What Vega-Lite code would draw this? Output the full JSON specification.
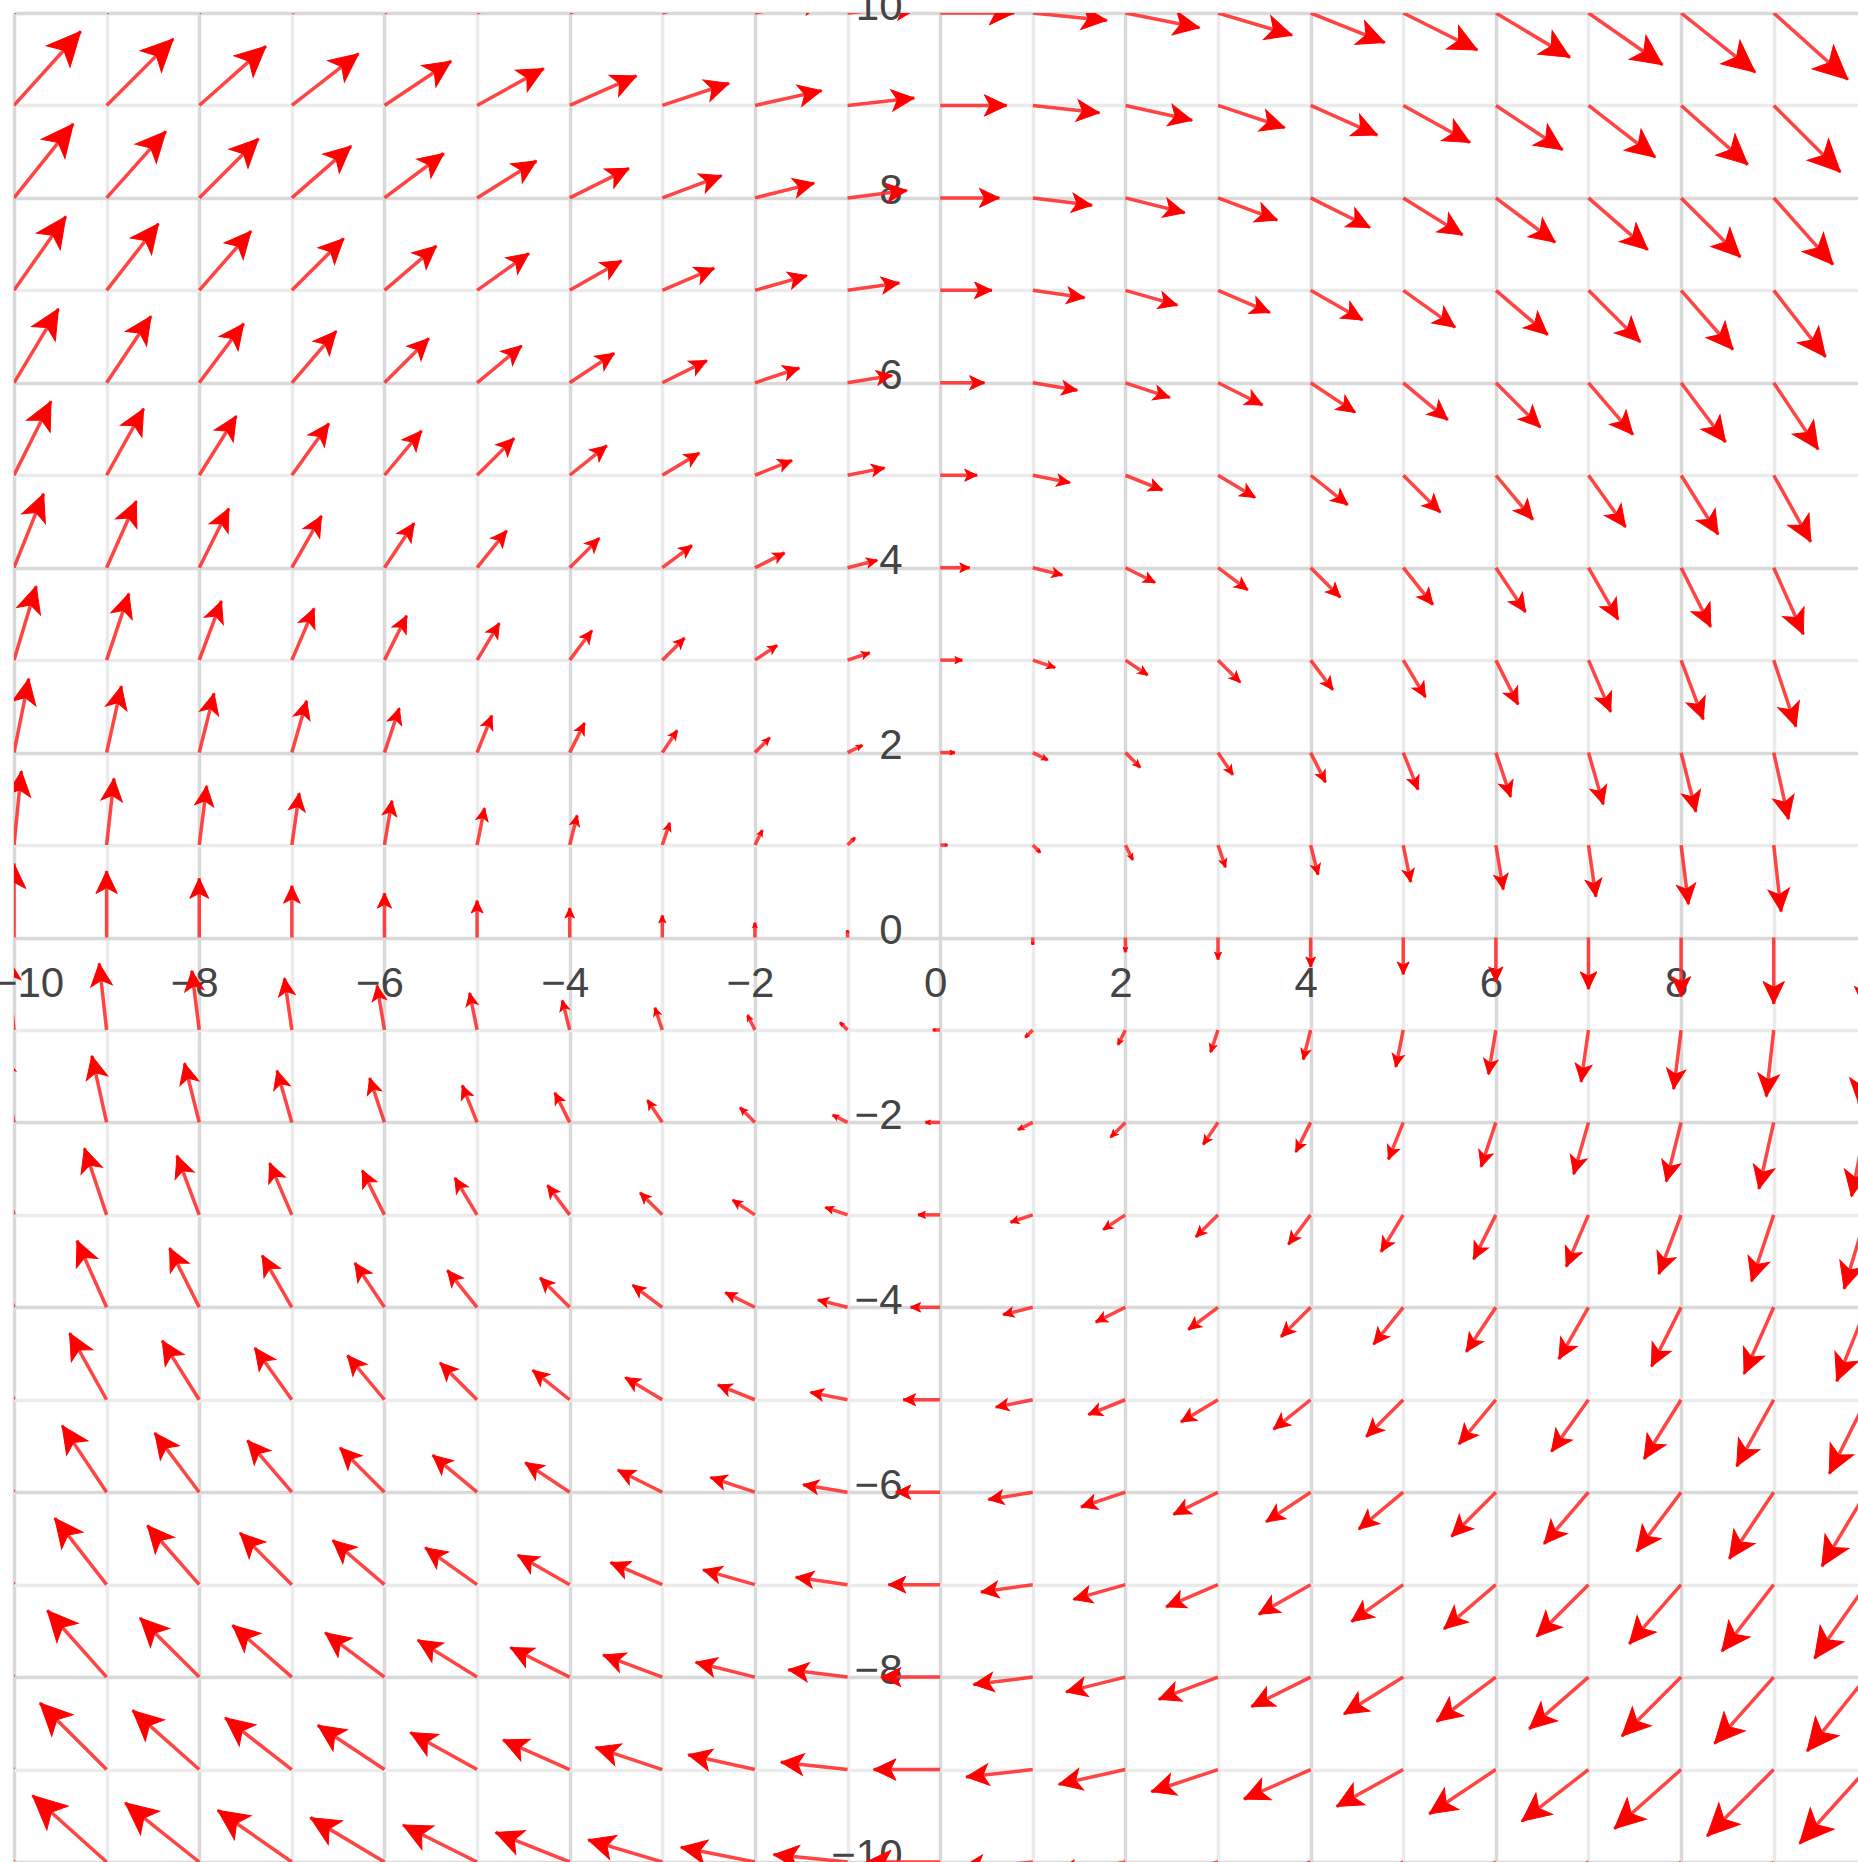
{
"$schema": "https://vega.github.io/schema/vega-lite/v6.json",
"width": 1844, "height": 1849,
"autosize": {"type": "none"},
"padding": {"left": 14, "top": 13, "right": 0, "bottom": 0},
"background": "white",
"config": {"view": {"stroke": null}},
"data": {"values": [
{"x":-10,"y":10,"p":-9.2,"q":10.8,"a":45,"m":200},{"x":-9,"y":10,"p":-8.2,"q":10.72,"a":48,"m":181},{"x":-8,"y":10,"p":-7.2,"q":10.64,"a":51,"m":164},{"x":-7,"y":10,"p":-6.2,"q":10.56,"a":55,"m":149},{"x":-6,"y":10,"p":-5.2,"q":10.48,"a":59,"m":136},{"x":-5,"y":10,"p":-4.2,"q":10.4,"a":63,"m":125},{"x":-4,"y":10,"p":-3.2,"q":10.32,"a":68,"m":116},{"x":-3,"y":10,"p":-2.2,"q":10.24,"a":73,"m":109},{"x":-2,"y":10,"p":-1.2,"q":10.16,"a":79,"m":104},{"x":-1,"y":10,"p":-0.2,"q":10.08,"a":84,"m":101},{"x":0,"y":10,"p":0.8,"q":10,"a":90,"m":100},{"x":1,"y":10,"p":1.8,"q":9.92,"a":96,"m":101},{"x":2,"y":10,"p":2.8,"q":9.84,"a":101,"m":104},{"x":3,"y":10,"p":3.8,"q":9.76,"a":107,"m":109},{"x":4,"y":10,"p":4.8,"q":9.68,"a":112,"m":116},{"x":5,"y":10,"p":5.8,"q":9.6,"a":117,"m":125},{"x":6,"y":10,"p":6.8,"q":9.52,"a":121,"m":136},{"x":7,"y":10,"p":7.8,"q":9.44,"a":125,"m":149},{"x":8,"y":10,"p":8.8,"q":9.36,"a":129,"m":164},{"x":9,"y":10,"p":9.8,"q":9.28,"a":132,"m":181},{"x":10,"y":10,"p":10.8,"q":9.2,"a":135,"m":200},
{"x":-10,"y":9,"p":-9.28,"q":9.8,"a":42,"m":181},{"x":-9,"y":9,"p":-8.28,"q":9.72,"a":45,"m":162},{"x":-8,"y":9,"p":-7.28,"q":9.64,"a":48,"m":145},{"x":-7,"y":9,"p":-6.28,"q":9.56,"a":52,"m":130},{"x":-6,"y":9,"p":-5.28,"q":9.48,"a":56,"m":117},{"x":-5,"y":9,"p":-4.28,"q":9.4,"a":61,"m":106},{"x":-4,"y":9,"p":-3.28,"q":9.32,"a":66,"m":97},{"x":-3,"y":9,"p":-2.28,"q":9.24,"a":72,"m":90},{"x":-2,"y":9,"p":-1.28,"q":9.16,"a":77,"m":85},{"x":-1,"y":9,"p":-0.28,"q":9.08,"a":84,"m":82},{"x":0,"y":9,"p":0.72,"q":9,"a":90,"m":81},{"x":1,"y":9,"p":1.72,"q":8.92,"a":96,"m":82},{"x":2,"y":9,"p":2.72,"q":8.84,"a":103,"m":85},{"x":3,"y":9,"p":3.72,"q":8.76,"a":108,"m":90},{"x":4,"y":9,"p":4.72,"q":8.68,"a":114,"m":97},{"x":5,"y":9,"p":5.72,"q":8.6,"a":119,"m":106},{"x":6,"y":9,"p":6.72,"q":8.52,"a":124,"m":117},{"x":7,"y":9,"p":7.72,"q":8.44,"a":128,"m":130},{"x":8,"y":9,"p":8.72,"q":8.36,"a":132,"m":145},{"x":9,"y":9,"p":9.72,"q":8.28,"a":135,"m":162},{"x":10,"y":9,"p":10.72,"q":8.2,"a":138,"m":181},
{"x":-10,"y":8,"p":-9.36,"q":8.8,"a":39,"m":164},{"x":-9,"y":8,"p":-8.36,"q":8.72,"a":42,"m":145},{"x":-8,"y":8,"p":-7.36,"q":8.64,"a":45,"m":128},{"x":-7,"y":8,"p":-6.36,"q":8.56,"a":49,"m":113},{"x":-6,"y":8,"p":-5.36,"q":8.48,"a":53,"m":100},{"x":-5,"y":8,"p":-4.36,"q":8.4,"a":58,"m":89},{"x":-4,"y":8,"p":-3.36,"q":8.32,"a":63,"m":80},{"x":-3,"y":8,"p":-2.36,"q":8.24,"a":69,"m":73},{"x":-2,"y":8,"p":-1.36,"q":8.16,"a":76,"m":68},{"x":-1,"y":8,"p":-0.36,"q":8.08,"a":83,"m":65},{"x":0,"y":8,"p":0.64,"q":8,"a":90,"m":64},{"x":1,"y":8,"p":1.64,"q":7.92,"a":97,"m":65},{"x":2,"y":8,"p":2.64,"q":7.84,"a":104,"m":68},{"x":3,"y":8,"p":3.64,"q":7.76,"a":111,"m":73},{"x":4,"y":8,"p":4.64,"q":7.68,"a":117,"m":80},{"x":5,"y":8,"p":5.64,"q":7.6,"a":122,"m":89},{"x":6,"y":8,"p":6.64,"q":7.52,"a":127,"m":100},{"x":7,"y":8,"p":7.64,"q":7.44,"a":131,"m":113},{"x":8,"y":8,"p":8.64,"q":7.36,"a":135,"m":128},{"x":9,"y":8,"p":9.64,"q":7.28,"a":138,"m":145},{"x":10,"y":8,"p":10.64,"q":7.2,"a":141,"m":164},
{"x":-10,"y":7,"p":-9.44,"q":7.8,"a":35,"m":149},{"x":-9,"y":7,"p":-8.44,"q":7.72,"a":38,"m":130},{"x":-8,"y":7,"p":-7.44,"q":7.64,"a":41,"m":113},{"x":-7,"y":7,"p":-6.44,"q":7.56,"a":45,"m":98},{"x":-6,"y":7,"p":-5.44,"q":7.48,"a":49,"m":85},{"x":-5,"y":7,"p":-4.44,"q":7.4,"a":54,"m":74},{"x":-4,"y":7,"p":-3.44,"q":7.32,"a":60,"m":65},{"x":-3,"y":7,"p":-2.44,"q":7.24,"a":67,"m":58},{"x":-2,"y":7,"p":-1.44,"q":7.16,"a":74,"m":53},{"x":-1,"y":7,"p":-0.44,"q":7.08,"a":82,"m":50},{"x":0,"y":7,"p":0.56,"q":7,"a":90,"m":49},{"x":1,"y":7,"p":1.56,"q":6.92,"a":98,"m":50},{"x":2,"y":7,"p":2.56,"q":6.84,"a":106,"m":53},{"x":3,"y":7,"p":3.56,"q":6.76,"a":113,"m":58},{"x":4,"y":7,"p":4.56,"q":6.68,"a":120,"m":65},{"x":5,"y":7,"p":5.56,"q":6.6,"a":126,"m":74},{"x":6,"y":7,"p":6.56,"q":6.52,"a":131,"m":85},{"x":7,"y":7,"p":7.56,"q":6.44,"a":135,"m":98},{"x":8,"y":7,"p":8.56,"q":6.36,"a":139,"m":113},{"x":9,"y":7,"p":9.56,"q":6.28,"a":142,"m":130},{"x":10,"y":7,"p":10.56,"q":6.2,"a":145,"m":149},
{"x":-10,"y":6,"p":-9.52,"q":6.8,"a":31,"m":136},{"x":-9,"y":6,"p":-8.52,"q":6.72,"a":34,"m":117},{"x":-8,"y":6,"p":-7.52,"q":6.64,"a":37,"m":100},{"x":-7,"y":6,"p":-6.52,"q":6.56,"a":41,"m":85},{"x":-6,"y":6,"p":-5.52,"q":6.48,"a":45,"m":72},{"x":-5,"y":6,"p":-4.52,"q":6.4,"a":50,"m":61},{"x":-4,"y":6,"p":-3.52,"q":6.32,"a":56,"m":52},{"x":-3,"y":6,"p":-2.52,"q":6.24,"a":63,"m":45},{"x":-2,"y":6,"p":-1.52,"q":6.16,"a":72,"m":40},{"x":-1,"y":6,"p":-0.52,"q":6.08,"a":81,"m":37},{"x":0,"y":6,"p":0.48,"q":6,"a":90,"m":36},{"x":1,"y":6,"p":1.48,"q":5.92,"a":99,"m":37},{"x":2,"y":6,"p":2.48,"q":5.84,"a":108,"m":40},{"x":3,"y":6,"p":3.48,"q":5.76,"a":117,"m":45},{"x":4,"y":6,"p":4.48,"q":5.68,"a":124,"m":52},{"x":5,"y":6,"p":5.48,"q":5.6,"a":130,"m":61},{"x":6,"y":6,"p":6.48,"q":5.52,"a":135,"m":72},{"x":7,"y":6,"p":7.48,"q":5.44,"a":139,"m":85},{"x":8,"y":6,"p":8.48,"q":5.36,"a":143,"m":100},{"x":9,"y":6,"p":9.48,"q":5.28,"a":146,"m":117},{"x":10,"y":6,"p":10.48,"q":5.2,"a":149,"m":136},
{"x":-10,"y":5,"p":-9.6,"q":5.8,"a":27,"m":125},{"x":-9,"y":5,"p":-8.6,"q":5.72,"a":29,"m":106},{"x":-8,"y":5,"p":-7.6,"q":5.64,"a":32,"m":89},{"x":-7,"y":5,"p":-6.6,"q":5.56,"a":36,"m":74},{"x":-6,"y":5,"p":-5.6,"q":5.48,"a":40,"m":61},{"x":-5,"y":5,"p":-4.6,"q":5.4,"a":45,"m":50},{"x":-4,"y":5,"p":-3.6,"q":5.32,"a":51,"m":41},{"x":-3,"y":5,"p":-2.6,"q":5.24,"a":59,"m":34},{"x":-2,"y":5,"p":-1.6,"q":5.16,"a":68,"m":29},{"x":-1,"y":5,"p":-0.6,"q":5.08,"a":79,"m":26},{"x":0,"y":5,"p":0.4,"q":5,"a":90,"m":25},{"x":1,"y":5,"p":1.4,"q":4.92,"a":101,"m":26},{"x":2,"y":5,"p":2.4,"q":4.84,"a":112,"m":29},{"x":3,"y":5,"p":3.4,"q":4.76,"a":121,"m":34},{"x":4,"y":5,"p":4.4,"q":4.68,"a":129,"m":41},{"x":5,"y":5,"p":5.4,"q":4.6,"a":135,"m":50},{"x":6,"y":5,"p":6.4,"q":4.52,"a":140,"m":61},{"x":7,"y":5,"p":7.4,"q":4.44,"a":144,"m":74},{"x":8,"y":5,"p":8.4,"q":4.36,"a":148,"m":89},{"x":9,"y":5,"p":9.4,"q":4.28,"a":151,"m":106},{"x":10,"y":5,"p":10.4,"q":4.2,"a":153,"m":125},
{"x":-10,"y":4,"p":-9.68,"q":4.8,"a":22,"m":116},{"x":-9,"y":4,"p":-8.68,"q":4.72,"a":24,"m":97},{"x":-8,"y":4,"p":-7.68,"q":4.64,"a":27,"m":80},{"x":-7,"y":4,"p":-6.68,"q":4.56,"a":30,"m":65},{"x":-6,"y":4,"p":-5.68,"q":4.48,"a":34,"m":52},{"x":-5,"y":4,"p":-4.68,"q":4.4,"a":39,"m":41},{"x":-4,"y":4,"p":-3.68,"q":4.32,"a":45,"m":32},{"x":-3,"y":4,"p":-2.68,"q":4.24,"a":53,"m":25},{"x":-2,"y":4,"p":-1.68,"q":4.16,"a":63,"m":20},{"x":-1,"y":4,"p":-0.68,"q":4.08,"a":76,"m":17},{"x":0,"y":4,"p":0.32,"q":4,"a":90,"m":16},{"x":1,"y":4,"p":1.32,"q":3.92,"a":104,"m":17},{"x":2,"y":4,"p":2.32,"q":3.84,"a":117,"m":20},{"x":3,"y":4,"p":3.32,"q":3.76,"a":127,"m":25},{"x":4,"y":4,"p":4.32,"q":3.68,"a":135,"m":32},{"x":5,"y":4,"p":5.32,"q":3.6,"a":141,"m":41},{"x":6,"y":4,"p":6.32,"q":3.52,"a":146,"m":52},{"x":7,"y":4,"p":7.32,"q":3.44,"a":150,"m":65},{"x":8,"y":4,"p":8.32,"q":3.36,"a":153,"m":80},{"x":9,"y":4,"p":9.32,"q":3.28,"a":156,"m":97},{"x":10,"y":4,"p":10.32,"q":3.2,"a":158,"m":116},
{"x":-10,"y":3,"p":-9.76,"q":3.8,"a":17,"m":109},{"x":-9,"y":3,"p":-8.76,"q":3.72,"a":18,"m":90},{"x":-8,"y":3,"p":-7.76,"q":3.64,"a":21,"m":73},{"x":-7,"y":3,"p":-6.76,"q":3.56,"a":23,"m":58},{"x":-6,"y":3,"p":-5.76,"q":3.48,"a":27,"m":45},{"x":-5,"y":3,"p":-4.76,"q":3.4,"a":31,"m":34},{"x":-4,"y":3,"p":-3.76,"q":3.32,"a":37,"m":25},{"x":-3,"y":3,"p":-2.76,"q":3.24,"a":45,"m":18},{"x":-2,"y":3,"p":-1.76,"q":3.16,"a":56,"m":13},{"x":-1,"y":3,"p":-0.76,"q":3.08,"a":72,"m":10},{"x":0,"y":3,"p":0.24,"q":3,"a":90,"m":9},{"x":1,"y":3,"p":1.24,"q":2.92,"a":108,"m":10},{"x":2,"y":3,"p":2.24,"q":2.84,"a":124,"m":13},{"x":3,"y":3,"p":3.24,"q":2.76,"a":135,"m":18},{"x":4,"y":3,"p":4.24,"q":2.68,"a":143,"m":25},{"x":5,"y":3,"p":5.24,"q":2.6,"a":149,"m":34},{"x":6,"y":3,"p":6.24,"q":2.52,"a":153,"m":45},{"x":7,"y":3,"p":7.24,"q":2.44,"a":157,"m":58},{"x":8,"y":3,"p":8.24,"q":2.36,"a":159,"m":73},{"x":9,"y":3,"p":9.24,"q":2.28,"a":162,"m":90},{"x":10,"y":3,"p":10.24,"q":2.2,"a":163,"m":109},
{"x":-10,"y":2,"p":-9.84,"q":2.8,"a":11,"m":104},{"x":-9,"y":2,"p":-8.84,"q":2.72,"a":13,"m":85},{"x":-8,"y":2,"p":-7.84,"q":2.64,"a":14,"m":68},{"x":-7,"y":2,"p":-6.84,"q":2.56,"a":16,"m":53},{"x":-6,"y":2,"p":-5.84,"q":2.48,"a":18,"m":40},{"x":-5,"y":2,"p":-4.84,"q":2.4,"a":22,"m":29},{"x":-4,"y":2,"p":-3.84,"q":2.32,"a":27,"m":20},{"x":-3,"y":2,"p":-2.84,"q":2.24,"a":34,"m":13},{"x":-2,"y":2,"p":-1.84,"q":2.16,"a":45,"m":8},{"x":-1,"y":2,"p":-0.84,"q":2.08,"a":63,"m":5},{"x":0,"y":2,"p":0.16,"q":2,"a":90,"m":4},{"x":1,"y":2,"p":1.16,"q":1.92,"a":117,"m":5},{"x":2,"y":2,"p":2.16,"q":1.84,"a":135,"m":8},{"x":3,"y":2,"p":3.16,"q":1.76,"a":146,"m":13},{"x":4,"y":2,"p":4.16,"q":1.68,"a":153,"m":20},{"x":5,"y":2,"p":5.16,"q":1.6,"a":158,"m":29},{"x":6,"y":2,"p":6.16,"q":1.52,"a":162,"m":40},{"x":7,"y":2,"p":7.16,"q":1.44,"a":164,"m":53},{"x":8,"y":2,"p":8.16,"q":1.36,"a":166,"m":68},{"x":9,"y":2,"p":9.16,"q":1.28,"a":167,"m":85},{"x":10,"y":2,"p":10.16,"q":1.2,"a":169,"m":104},
{"x":-10,"y":1,"p":-9.92,"q":1.8,"a":6,"m":101},{"x":-9,"y":1,"p":-8.92,"q":1.72,"a":6,"m":82},{"x":-8,"y":1,"p":-7.92,"q":1.64,"a":7,"m":65},{"x":-7,"y":1,"p":-6.92,"q":1.56,"a":8,"m":50},{"x":-6,"y":1,"p":-5.92,"q":1.48,"a":9,"m":37},{"x":-5,"y":1,"p":-4.92,"q":1.4,"a":11,"m":26},{"x":-4,"y":1,"p":-3.92,"q":1.32,"a":14,"m":17},{"x":-3,"y":1,"p":-2.92,"q":1.24,"a":18,"m":10},{"x":-2,"y":1,"p":-1.92,"q":1.16,"a":27,"m":5},{"x":-1,"y":1,"p":-0.92,"q":1.08,"a":45,"m":2},{"x":0,"y":1,"p":0.08,"q":1,"a":90,"m":1},{"x":1,"y":1,"p":1.08,"q":0.92,"a":135,"m":2},{"x":2,"y":1,"p":2.08,"q":0.84,"a":153,"m":5},{"x":3,"y":1,"p":3.08,"q":0.76,"a":162,"m":10},{"x":4,"y":1,"p":4.08,"q":0.68,"a":166,"m":17},{"x":5,"y":1,"p":5.08,"q":0.6,"a":169,"m":26},{"x":6,"y":1,"p":6.08,"q":0.52,"a":171,"m":37},{"x":7,"y":1,"p":7.08,"q":0.44,"a":172,"m":50},{"x":8,"y":1,"p":8.08,"q":0.36,"a":173,"m":65},{"x":9,"y":1,"p":9.08,"q":0.28,"a":174,"m":82},{"x":10,"y":1,"p":10.08,"q":0.2,"a":174,"m":101},
{"x":-10,"y":0,"p":-10,"q":0.8,"a":0,"m":100},{"x":-9,"y":0,"p":-9,"q":0.72,"a":0,"m":81},{"x":-8,"y":0,"p":-8,"q":0.64,"a":0,"m":64},{"x":-7,"y":0,"p":-7,"q":0.56,"a":0,"m":49},{"x":-6,"y":0,"p":-6,"q":0.48,"a":0,"m":36},{"x":-5,"y":0,"p":-5,"q":0.4,"a":0,"m":25},{"x":-4,"y":0,"p":-4,"q":0.32,"a":0,"m":16},{"x":-3,"y":0,"p":-3,"q":0.24,"a":0,"m":9},{"x":-2,"y":0,"p":-2,"q":0.16,"a":0,"m":4},{"x":-1,"y":0,"p":-1,"q":0.08,"a":0,"m":1},{"x":1,"y":0,"p":1,"q":-0.08,"a":180,"m":1},{"x":2,"y":0,"p":2,"q":-0.16,"a":180,"m":4},{"x":3,"y":0,"p":3,"q":-0.24,"a":180,"m":9},{"x":4,"y":0,"p":4,"q":-0.32,"a":180,"m":16},{"x":5,"y":0,"p":5,"q":-0.4,"a":180,"m":25},{"x":6,"y":0,"p":6,"q":-0.48,"a":180,"m":36},{"x":7,"y":0,"p":7,"q":-0.56,"a":180,"m":49},{"x":8,"y":0,"p":8,"q":-0.64,"a":180,"m":64},{"x":9,"y":0,"p":9,"q":-0.72,"a":180,"m":81},{"x":10,"y":0,"p":10,"q":-0.8,"a":180,"m":100},
{"x":-10,"y":-1,"p":-10.08,"q":-0.2,"a":354,"m":101},{"x":-9,"y":-1,"p":-9.08,"q":-0.28,"a":354,"m":82},{"x":-8,"y":-1,"p":-8.08,"q":-0.36,"a":353,"m":65},{"x":-7,"y":-1,"p":-7.08,"q":-0.44,"a":352,"m":50},{"x":-6,"y":-1,"p":-6.08,"q":-0.52,"a":351,"m":37},{"x":-5,"y":-1,"p":-5.08,"q":-0.6,"a":349,"m":26},{"x":-4,"y":-1,"p":-4.08,"q":-0.68,"a":346,"m":17},{"x":-3,"y":-1,"p":-3.08,"q":-0.76,"a":342,"m":10},{"x":-2,"y":-1,"p":-2.08,"q":-0.84,"a":333,"m":5},{"x":-1,"y":-1,"p":-1.08,"q":-0.92,"a":315,"m":2},{"x":0,"y":-1,"p":-0.08,"q":-1,"a":270,"m":1},{"x":1,"y":-1,"p":0.92,"q":-1.08,"a":225,"m":2},{"x":2,"y":-1,"p":1.92,"q":-1.16,"a":207,"m":5},{"x":3,"y":-1,"p":2.92,"q":-1.24,"a":198,"m":10},{"x":4,"y":-1,"p":3.92,"q":-1.32,"a":194,"m":17},{"x":5,"y":-1,"p":4.92,"q":-1.4,"a":191,"m":26},{"x":6,"y":-1,"p":5.92,"q":-1.48,"a":189,"m":37},{"x":7,"y":-1,"p":6.92,"q":-1.56,"a":188,"m":50},{"x":8,"y":-1,"p":7.92,"q":-1.64,"a":187,"m":65},{"x":9,"y":-1,"p":8.92,"q":-1.72,"a":186,"m":82},{"x":10,"y":-1,"p":9.92,"q":-1.8,"a":186,"m":101},
{"x":-10,"y":-2,"p":-10.16,"q":-1.2,"a":349,"m":104},{"x":-9,"y":-2,"p":-9.16,"q":-1.28,"a":347,"m":85},{"x":-8,"y":-2,"p":-8.16,"q":-1.36,"a":346,"m":68},{"x":-7,"y":-2,"p":-7.16,"q":-1.44,"a":344,"m":53},{"x":-6,"y":-2,"p":-6.16,"q":-1.52,"a":342,"m":40},{"x":-5,"y":-2,"p":-5.16,"q":-1.6,"a":338,"m":29},{"x":-4,"y":-2,"p":-4.16,"q":-1.68,"a":333,"m":20},{"x":-3,"y":-2,"p":-3.16,"q":-1.76,"a":326,"m":13},{"x":-2,"y":-2,"p":-2.16,"q":-1.84,"a":315,"m":8},{"x":-1,"y":-2,"p":-1.16,"q":-1.92,"a":297,"m":5},{"x":0,"y":-2,"p":-0.16,"q":-2,"a":270,"m":4},{"x":1,"y":-2,"p":0.84,"q":-2.08,"a":243,"m":5},{"x":2,"y":-2,"p":1.84,"q":-2.16,"a":225,"m":8},{"x":3,"y":-2,"p":2.84,"q":-2.24,"a":214,"m":13},{"x":4,"y":-2,"p":3.84,"q":-2.32,"a":207,"m":20},{"x":5,"y":-2,"p":4.84,"q":-2.4,"a":202,"m":29},{"x":6,"y":-2,"p":5.84,"q":-2.48,"a":198,"m":40},{"x":7,"y":-2,"p":6.84,"q":-2.56,"a":196,"m":53},{"x":8,"y":-2,"p":7.84,"q":-2.64,"a":194,"m":68},{"x":9,"y":-2,"p":8.84,"q":-2.72,"a":193,"m":85},{"x":10,"y":-2,"p":9.84,"q":-2.8,"a":191,"m":104},
{"x":-10,"y":-3,"p":-10.24,"q":-2.2,"a":343,"m":109},{"x":-9,"y":-3,"p":-9.24,"q":-2.28,"a":342,"m":90},{"x":-8,"y":-3,"p":-8.24,"q":-2.36,"a":339,"m":73},{"x":-7,"y":-3,"p":-7.24,"q":-2.44,"a":337,"m":58},{"x":-6,"y":-3,"p":-6.24,"q":-2.52,"a":333,"m":45},{"x":-5,"y":-3,"p":-5.24,"q":-2.6,"a":329,"m":34},{"x":-4,"y":-3,"p":-4.24,"q":-2.68,"a":323,"m":25},{"x":-3,"y":-3,"p":-3.24,"q":-2.76,"a":315,"m":18},{"x":-2,"y":-3,"p":-2.24,"q":-2.84,"a":304,"m":13},{"x":-1,"y":-3,"p":-1.24,"q":-2.92,"a":288,"m":10},{"x":0,"y":-3,"p":-0.24,"q":-3,"a":270,"m":9},{"x":1,"y":-3,"p":0.76,"q":-3.08,"a":252,"m":10},{"x":2,"y":-3,"p":1.76,"q":-3.16,"a":236,"m":13},{"x":3,"y":-3,"p":2.76,"q":-3.24,"a":225,"m":18},{"x":4,"y":-3,"p":3.76,"q":-3.32,"a":217,"m":25},{"x":5,"y":-3,"p":4.76,"q":-3.4,"a":211,"m":34},{"x":6,"y":-3,"p":5.76,"q":-3.48,"a":207,"m":45},{"x":7,"y":-3,"p":6.76,"q":-3.56,"a":203,"m":58},{"x":8,"y":-3,"p":7.76,"q":-3.64,"a":201,"m":73},{"x":9,"y":-3,"p":8.76,"q":-3.72,"a":198,"m":90},{"x":10,"y":-3,"p":9.76,"q":-3.8,"a":197,"m":109},
{"x":-10,"y":-4,"p":-10.32,"q":-3.2,"a":338,"m":116},{"x":-9,"y":-4,"p":-9.32,"q":-3.28,"a":336,"m":97},{"x":-8,"y":-4,"p":-8.32,"q":-3.36,"a":333,"m":80},{"x":-7,"y":-4,"p":-7.32,"q":-3.44,"a":330,"m":65},{"x":-6,"y":-4,"p":-6.32,"q":-3.52,"a":326,"m":52},{"x":-5,"y":-4,"p":-5.32,"q":-3.6,"a":321,"m":41},{"x":-4,"y":-4,"p":-4.32,"q":-3.68,"a":315,"m":32},{"x":-3,"y":-4,"p":-3.32,"q":-3.76,"a":307,"m":25},{"x":-2,"y":-4,"p":-2.32,"q":-3.84,"a":297,"m":20},{"x":-1,"y":-4,"p":-1.32,"q":-3.92,"a":284,"m":17},{"x":0,"y":-4,"p":-0.32,"q":-4,"a":270,"m":16},{"x":1,"y":-4,"p":0.68,"q":-4.08,"a":256,"m":17},{"x":2,"y":-4,"p":1.68,"q":-4.16,"a":243,"m":20},{"x":3,"y":-4,"p":2.68,"q":-4.24,"a":233,"m":25},{"x":4,"y":-4,"p":3.68,"q":-4.32,"a":225,"m":32},{"x":5,"y":-4,"p":4.68,"q":-4.4,"a":219,"m":41},{"x":6,"y":-4,"p":5.68,"q":-4.48,"a":214,"m":52},{"x":7,"y":-4,"p":6.68,"q":-4.56,"a":210,"m":65},{"x":8,"y":-4,"p":7.68,"q":-4.64,"a":207,"m":80},{"x":9,"y":-4,"p":8.68,"q":-4.72,"a":204,"m":97},{"x":10,"y":-4,"p":9.68,"q":-4.8,"a":202,"m":116},
{"x":-10,"y":-5,"p":-10.4,"q":-4.2,"a":333,"m":125},{"x":-9,"y":-5,"p":-9.4,"q":-4.28,"a":331,"m":106},{"x":-8,"y":-5,"p":-8.4,"q":-4.36,"a":328,"m":89},{"x":-7,"y":-5,"p":-7.4,"q":-4.44,"a":324,"m":74},{"x":-6,"y":-5,"p":-6.4,"q":-4.52,"a":320,"m":61},{"x":-5,"y":-5,"p":-5.4,"q":-4.6,"a":315,"m":50},{"x":-4,"y":-5,"p":-4.4,"q":-4.68,"a":309,"m":41},{"x":-3,"y":-5,"p":-3.4,"q":-4.76,"a":301,"m":34},{"x":-2,"y":-5,"p":-2.4,"q":-4.84,"a":292,"m":29},{"x":-1,"y":-5,"p":-1.4,"q":-4.92,"a":281,"m":26},{"x":0,"y":-5,"p":-0.4,"q":-5,"a":270,"m":25},{"x":1,"y":-5,"p":0.6,"q":-5.08,"a":259,"m":26},{"x":2,"y":-5,"p":1.6,"q":-5.16,"a":248,"m":29},{"x":3,"y":-5,"p":2.6,"q":-5.24,"a":239,"m":34},{"x":4,"y":-5,"p":3.6,"q":-5.32,"a":231,"m":41},{"x":5,"y":-5,"p":4.6,"q":-5.4,"a":225,"m":50},{"x":6,"y":-5,"p":5.6,"q":-5.48,"a":220,"m":61},{"x":7,"y":-5,"p":6.6,"q":-5.56,"a":216,"m":74},{"x":8,"y":-5,"p":7.6,"q":-5.64,"a":212,"m":89},{"x":9,"y":-5,"p":8.6,"q":-5.72,"a":209,"m":106},{"x":10,"y":-5,"p":9.6,"q":-5.8,"a":207,"m":125},
{"x":-10,"y":-6,"p":-10.48,"q":-5.2,"a":329,"m":136},{"x":-9,"y":-6,"p":-9.48,"q":-5.28,"a":326,"m":117},{"x":-8,"y":-6,"p":-8.48,"q":-5.36,"a":323,"m":100},{"x":-7,"y":-6,"p":-7.48,"q":-5.44,"a":319,"m":85},{"x":-6,"y":-6,"p":-6.48,"q":-5.52,"a":315,"m":72},{"x":-5,"y":-6,"p":-5.48,"q":-5.6,"a":310,"m":61},{"x":-4,"y":-6,"p":-4.48,"q":-5.68,"a":304,"m":52},{"x":-3,"y":-6,"p":-3.48,"q":-5.76,"a":297,"m":45},{"x":-2,"y":-6,"p":-2.48,"q":-5.84,"a":288,"m":40},{"x":-1,"y":-6,"p":-1.48,"q":-5.92,"a":279,"m":37},{"x":0,"y":-6,"p":-0.48,"q":-6,"a":270,"m":36},{"x":1,"y":-6,"p":0.52,"q":-6.08,"a":261,"m":37},{"x":2,"y":-6,"p":1.52,"q":-6.16,"a":252,"m":40},{"x":3,"y":-6,"p":2.52,"q":-6.24,"a":243,"m":45},{"x":4,"y":-6,"p":3.52,"q":-6.32,"a":236,"m":52},{"x":5,"y":-6,"p":4.52,"q":-6.4,"a":230,"m":61},{"x":6,"y":-6,"p":5.52,"q":-6.48,"a":225,"m":72},{"x":7,"y":-6,"p":6.52,"q":-6.56,"a":221,"m":85},{"x":8,"y":-6,"p":7.52,"q":-6.64,"a":217,"m":100},{"x":9,"y":-6,"p":8.52,"q":-6.72,"a":214,"m":117},{"x":10,"y":-6,"p":9.52,"q":-6.8,"a":211,"m":136},
{"x":-10,"y":-7,"p":-10.56,"q":-6.2,"a":325,"m":149},{"x":-9,"y":-7,"p":-9.56,"q":-6.28,"a":322,"m":130},{"x":-8,"y":-7,"p":-8.56,"q":-6.36,"a":319,"m":113},{"x":-7,"y":-7,"p":-7.56,"q":-6.44,"a":315,"m":98},{"x":-6,"y":-7,"p":-6.56,"q":-6.52,"a":311,"m":85},{"x":-5,"y":-7,"p":-5.56,"q":-6.6,"a":306,"m":74},{"x":-4,"y":-7,"p":-4.56,"q":-6.68,"a":300,"m":65},{"x":-3,"y":-7,"p":-3.56,"q":-6.76,"a":293,"m":58},{"x":-2,"y":-7,"p":-2.56,"q":-6.84,"a":286,"m":53},{"x":-1,"y":-7,"p":-1.56,"q":-6.92,"a":278,"m":50},{"x":0,"y":-7,"p":-0.56,"q":-7,"a":270,"m":49},{"x":1,"y":-7,"p":0.44,"q":-7.08,"a":262,"m":50},{"x":2,"y":-7,"p":1.44,"q":-7.16,"a":254,"m":53},{"x":3,"y":-7,"p":2.44,"q":-7.24,"a":247,"m":58},{"x":4,"y":-7,"p":3.44,"q":-7.32,"a":240,"m":65},{"x":5,"y":-7,"p":4.44,"q":-7.4,"a":234,"m":74},{"x":6,"y":-7,"p":5.44,"q":-7.48,"a":229,"m":85},{"x":7,"y":-7,"p":6.44,"q":-7.56,"a":225,"m":98},{"x":8,"y":-7,"p":7.44,"q":-7.64,"a":221,"m":113},{"x":9,"y":-7,"p":8.44,"q":-7.72,"a":218,"m":130},{"x":10,"y":-7,"p":9.44,"q":-7.8,"a":215,"m":149},
{"x":-10,"y":-8,"p":-10.64,"q":-7.2,"a":321,"m":164},{"x":-9,"y":-8,"p":-9.64,"q":-7.28,"a":318,"m":145},{"x":-8,"y":-8,"p":-8.64,"q":-7.36,"a":315,"m":128},{"x":-7,"y":-8,"p":-7.64,"q":-7.44,"a":311,"m":113},{"x":-6,"y":-8,"p":-6.64,"q":-7.52,"a":307,"m":100},{"x":-5,"y":-8,"p":-5.64,"q":-7.6,"a":302,"m":89},{"x":-4,"y":-8,"p":-4.64,"q":-7.68,"a":297,"m":80},{"x":-3,"y":-8,"p":-3.64,"q":-7.76,"a":291,"m":73},{"x":-2,"y":-8,"p":-2.64,"q":-7.84,"a":284,"m":68},{"x":-1,"y":-8,"p":-1.64,"q":-7.92,"a":277,"m":65},{"x":0,"y":-8,"p":-0.64,"q":-8,"a":270,"m":64},{"x":1,"y":-8,"p":0.36,"q":-8.08,"a":263,"m":65},{"x":2,"y":-8,"p":1.36,"q":-8.16,"a":256,"m":68},{"x":3,"y":-8,"p":2.36,"q":-8.24,"a":249,"m":73},{"x":4,"y":-8,"p":3.36,"q":-8.32,"a":243,"m":80},{"x":5,"y":-8,"p":4.36,"q":-8.4,"a":238,"m":89},{"x":6,"y":-8,"p":5.36,"q":-8.48,"a":233,"m":100},{"x":7,"y":-8,"p":6.36,"q":-8.56,"a":229,"m":113},{"x":8,"y":-8,"p":7.36,"q":-8.64,"a":225,"m":128},{"x":9,"y":-8,"p":8.36,"q":-8.72,"a":222,"m":145},{"x":10,"y":-8,"p":9.36,"q":-8.8,"a":219,"m":164},
{"x":-10,"y":-9,"p":-10.72,"q":-8.2,"a":318,"m":181},{"x":-9,"y":-9,"p":-9.72,"q":-8.28,"a":315,"m":162},{"x":-8,"y":-9,"p":-8.72,"q":-8.36,"a":312,"m":145},{"x":-7,"y":-9,"p":-7.72,"q":-8.44,"a":308,"m":130},{"x":-6,"y":-9,"p":-6.72,"q":-8.52,"a":304,"m":117},{"x":-5,"y":-9,"p":-5.72,"q":-8.6,"a":299,"m":106},{"x":-4,"y":-9,"p":-4.72,"q":-8.68,"a":294,"m":97},{"x":-3,"y":-9,"p":-3.72,"q":-8.76,"a":288,"m":90},{"x":-2,"y":-9,"p":-2.72,"q":-8.84,"a":283,"m":85},{"x":-1,"y":-9,"p":-1.72,"q":-8.92,"a":276,"m":82},{"x":0,"y":-9,"p":-0.72,"q":-9,"a":270,"m":81},{"x":1,"y":-9,"p":0.28,"q":-9.08,"a":264,"m":82},{"x":2,"y":-9,"p":1.28,"q":-9.16,"a":257,"m":85},{"x":3,"y":-9,"p":2.28,"q":-9.24,"a":252,"m":90},{"x":4,"y":-9,"p":3.28,"q":-9.32,"a":246,"m":97},{"x":5,"y":-9,"p":4.28,"q":-9.4,"a":241,"m":106},{"x":6,"y":-9,"p":5.28,"q":-9.48,"a":236,"m":117},{"x":7,"y":-9,"p":6.28,"q":-9.56,"a":232,"m":130},{"x":8,"y":-9,"p":7.28,"q":-9.64,"a":228,"m":145},{"x":9,"y":-9,"p":8.28,"q":-9.72,"a":225,"m":162},{"x":10,"y":-9,"p":9.28,"q":-9.8,"a":222,"m":181},
{"x":-10,"y":-10,"p":-10.8,"q":-9.2,"a":315,"m":200},{"x":-9,"y":-10,"p":-9.8,"q":-9.28,"a":312,"m":181},{"x":-8,"y":-10,"p":-8.8,"q":-9.36,"a":309,"m":164},{"x":-7,"y":-10,"p":-7.8,"q":-9.44,"a":305,"m":149},{"x":-6,"y":-10,"p":-6.8,"q":-9.52,"a":301,"m":136},{"x":-5,"y":-10,"p":-5.8,"q":-9.6,"a":297,"m":125},{"x":-4,"y":-10,"p":-4.8,"q":-9.68,"a":292,"m":116},{"x":-3,"y":-10,"p":-3.8,"q":-9.76,"a":287,"m":109},{"x":-2,"y":-10,"p":-2.8,"q":-9.84,"a":281,"m":104},{"x":-1,"y":-10,"p":-1.8,"q":-9.92,"a":276,"m":101},{"x":0,"y":-10,"p":-0.8,"q":-10,"a":270,"m":100},{"x":1,"y":-10,"p":0.2,"q":-10.08,"a":264,"m":101},{"x":2,"y":-10,"p":1.2,"q":-10.16,"a":259,"m":104},{"x":3,"y":-10,"p":2.2,"q":-10.24,"a":253,"m":109},{"x":4,"y":-10,"p":3.2,"q":-10.32,"a":248,"m":116},{"x":5,"y":-10,"p":4.2,"q":-10.4,"a":243,"m":125},{"x":6,"y":-10,"p":5.2,"q":-10.48,"a":239,"m":136},{"x":7,"y":-10,"p":6.2,"q":-10.56,"a":235,"m":149},{"x":8,"y":-10,"p":7.2,"q":-10.64,"a":231,"m":164},{"x":9,"y":-10,"p":8.2,"q":-10.72,"a":228,"m":181},{"x":10,"y":-10,"p":9.2,"q":-10.8,"a":225,"m":200}
]},
"layer": [
{
"mark": {"type": "rule", "clip": true, "color": "#ff3030", "strokeWidth": 3.5, "opacity": 0.9},
"encoding": {
"x": {"field": "x", "type": "quantitative", "scale": {"domain": [-10, 9.91], "nice": false, "zero": false},
"axis": {"orient": "bottom", "title": null, "grid": true, "labels": false, "ticks": false, "domain": false, "values": [-10,-9,-8,-7,-6,-5,-4,-3,-2,-1,0,1,2,3,4,5,6,7,8,9,10], "gridWidth": 3.5, "gridColor": {"condition": {"test": "datum.value % 2 == 0", "value": "#d9d9d9"}, "value": "#ebebeb"}}},
"y": {"field": "y", "type": "quantitative", "scale": {"domain": [-10, 10], "nice": false, "zero": false},
"axis": {"orient": "left", "title": null, "grid": true, "labels": false, "ticks": false, "domain": false, "values": [-10,-9,-8,-7,-6,-5,-4,-3,-2,-1,0,1,2,3,4,5,6,7,8,9,10], "gridWidth": 3.5, "gridColor": {"condition": {"test": "datum.value % 2 == 0", "value": "#d9d9d9"}, "value": "#ebebeb"}}},
"x2": {"field": "p"},
"y2": {"field": "q"}
}
},
{
"mark": {"type": "point", "clip": true, "filled": true, "opacity": 1, "color": "#ff0000", "stroke": "#ff0000", "strokeWidth": 1, "shape": "M0,0 L0.95,2 L0,1.5 L-0.95,2 Z"},
"encoding": {
"x": {"field": "p", "type": "quantitative", "scale": {"domain": [-10, 9.91], "nice": false, "zero": false},
"axis": {"orient": "bottom", "offset": -924.5, "title": null, "grid": false, "ticks": false, "tickSize": 0, "domain": false, "values": [-10,-8,-6,-4,-2,0,2,4,6,8,10], "labelFont": "Liberation Sans", "labelFontSize": 42, "labelColor": "#444444", "labelPadding": 26, "labelOverlap": false, "labelFlush": false, "labelBound": false, "labelOffset": {"condition": {"test": "datum.value == -10", "value": 14}, "value": -5}}},
"y": {"field": "q", "type": "quantitative", "scale": {"domain": [-10, 10], "nice": false, "zero": false},
"axis": {"orient": "left", "offset": -926, "title": null, "grid": false, "ticks": false, "tickSize": 0, "domain": false, "values": [-10,-8,-6,-4,-2,0,2,4,6,8,10], "labelFont": "Liberation Sans", "labelFontSize": 42, "labelColor": "#444444", "labelPadding": 38, "labelOverlap": false, "labelFlush": false, "labelBound": false, "labelBaseline": "middle", "labelOffset": -7}},
"angle": {"field": "a", "type": "quantitative", "scale": null},
"size": {"field": "m", "type": "quantitative", "scale": {"domain": [0, 200], "range": [0, 1250]}, "legend": null}
}
}
],
"resolve": {"axis": {"x": "independent", "y": "independent"}}
}
